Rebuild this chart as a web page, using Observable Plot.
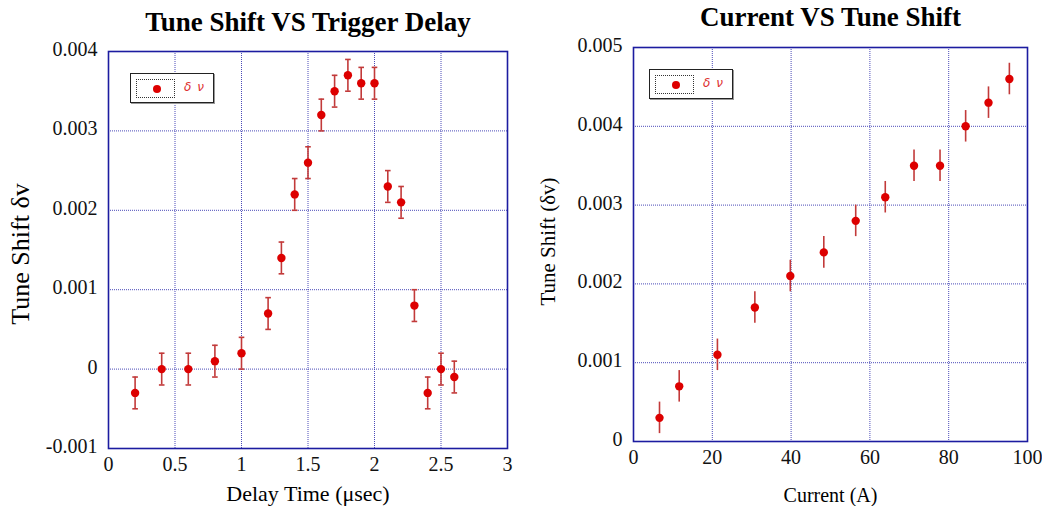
<!DOCTYPE html>
<html>
<head>
<meta charset="utf-8">
<script src="https://cdn.jsdelivr.net/npm/d3@7"></script>
<script src="https://cdn.jsdelivr.net/npm/@observablehq/plot@0.6"></script>
<style>
  html, body { margin: 0; padding: 0; background: #fff; }
  #wrap { position: relative; width: 1042px; height: 506px; overflow: hidden; }
  .panel { position: absolute; top: 0; }
  .panel svg, .panel svg text, .panel svg g { font-family: "Liberation Serif", "Times New Roman", serif !important; }
  .legend { position: absolute; border: 1.5px solid #222; background: #fff; box-sizing: border-box;
            box-shadow: 1px 1px 0 #999; }
  .legend .sw { position: absolute; left: 5px; top: 5px; width: 39px; height: 19px; border: 1px dotted #333; box-sizing: border-box; }
  .legend .sw i { position: absolute; left: 16px; top: 5px; width: 8px; height: 8px; border-radius: 50%; background: #dd0000; }
  .legend .lb { position: absolute; left: 53px; top: 6px; font: italic 12px "DejaVu Sans", sans-serif; color: #dd3030; letter-spacing: 1px; }
</style>
</head>
<body>
<div id="wrap"></div>
<script>
// ---- Left chart data: Tune Shift vs Trigger Delay ----
const delayTime = [0.2, 0.4, 0.6, 0.8, 1.0, 1.2, 1.3, 1.4, 1.5, 1.6, 1.7, 1.8, 1.9, 2.0, 2.1, 2.2, 2.3, 2.4, 2.5, 2.6];
const delayShift = [-0.0003, 0, 0, 0.0001, 0.0002, 0.0007, 0.0014, 0.0022, 0.0026, 0.0032, 0.0035, 0.0037, 0.0036, 0.0036, 0.0023, 0.0021, 0.0008, -0.0003, 0, -0.0001];
const delayErr = [0.0002, 0.0002, 0.0002, 0.0002, 0.0002, 0.0002, 0.0002, 0.0002, 0.0002, 0.0002, 0.0002, 0.0002, 0.0002, 0.0002, 0.0002, 0.0002, 0.0002, 0.0002, 0.0002, 0.0002];
const delayXTicks = [0, 0.5, 1, 1.5, 2, 2.5, 3];
const delayYTicks = [-0.001, 0, 0.001, 0.002, 0.003, 0.004];

// ---- Right chart data: Current vs Tune Shift ----
const current = [6.6, 11.6, 21.3, 30.8, 39.8, 48.3, 56.4, 63.9, 71.2, 77.8, 84.3, 90.1, 95.4];
const currentShift = [0.0003, 0.0007, 0.0011, 0.0017, 0.0021, 0.0024, 0.0028, 0.0031, 0.0035, 0.0035, 0.0040, 0.0043, 0.0046];
const currentErr = [0.0002, 0.0002, 0.0002, 0.0002, 0.0002, 0.0002, 0.0002, 0.0002, 0.0002, 0.0002, 0.0002, 0.0002, 0.0002];
const currentXTicks = [0, 20, 40, 60, 80, 100];
const currentYTicks = [0, 0.001, 0.002, 0.003, 0.004, 0.005];

const rows1 = delayTime.map((x, i) => ({x, y: delayShift[i], e: delayErr[i]}));
const rows2 = current.map((x, i) => ({x, y: currentShift[i], e: currentErr[i]}));

const RED = "#dd0000";
const BAR = "#c23a3a";
const FRAME = "#1c1ca0";
const GRID = "#4a4ab8";
const FONT = "'Liberation Serif', 'Times New Roman', serif";

const capSymbol = { draw(ctx, size) { ctx.moveTo(-2.8, 0); ctx.lineTo(2.8, 0); } };

const fmt = d => d === 0 ? "0" : String(+d.toFixed(3));

function chart(o) {
  const marks = [
    Plot.gridX(o.xTicks, {stroke: GRID, strokeOpacity: 1, strokeWidth: 1, strokeDasharray: "1,1"}),
    Plot.gridY(o.yTicks, {stroke: GRID, strokeOpacity: 1, strokeWidth: 1, strokeDasharray: "1,1"}),
    Plot.axisX(o.xTicks, {tickSize: 0, tickPadding: 8, fontSize: 20, fontFamily: FONT, fill: "#111", tickFormat: fmt, label: null}),
    Plot.axisY(o.yTicks, {tickSize: 0, tickPadding: 11, dy: -2, fontSize: 20, fontFamily: FONT, fill: "#111", tickFormat: fmt, label: null}),
    Plot.frame({stroke: FRAME, strokeWidth: 1.6}),
    Plot.ruleX(o.data, {x: "x", y1: d => d.y - d.e, y2: d => d.y + d.e, stroke: BAR, strokeWidth: 1.6}),
  ];
  if (o.caps) {
    marks.push(Plot.dot(o.data, {x: "x", y: d => d.y - d.e, symbol: capSymbol, stroke: BAR, strokeWidth: 1.6, fill: "none"}));
    marks.push(Plot.dot(o.data, {x: "x", y: d => d.y + d.e, symbol: capSymbol, stroke: BAR, strokeWidth: 1.6, fill: "none"}));
  }
  marks.push(Plot.dot(o.data, {x: "x", y: "y", r: 4.2, fill: RED, stroke: null}));
  marks.push(Plot.text([o.title], {frameAnchor: "top", dy: o.titleDy, fontSize: o.titleSize, fontWeight: "bold", fontFamily: FONT, fill: "#000", lineAnchor: "middle"}));
  marks.push(Plot.text([o.xLabel], {frameAnchor: "bottom", dy: o.xLabelDy, fontSize: o.xLabelSize, fontFamily: FONT, fill: "#000", lineAnchor: "middle"}));
  marks.push(Plot.text([o.yLabel], {frameAnchor: "left", textAnchor: "middle", dx: o.yLabelDx, dy: o.yLabelDy, rotate: -90, fontSize: o.yLabelSize, fontFamily: FONT, fill: "#000", lineAnchor: "middle"}));
  return Plot.plot({
    width: 521,
    height: 506,
    marginLeft: o.ml, marginRight: o.mr, marginTop: o.mt, marginBottom: o.mb,
    style: {fontFamily: FONT, color: "#111", background: "#fff", overflow: "visible"},
    x: {domain: o.xDomain},
    y: {domain: o.yDomain},
    marks
  });
}

const left = chart({
  data: rows1, caps: true,
  xDomain: [0, 3], yDomain: [-0.001, 0.004],
  xTicks: delayXTicks, yTicks: delayYTicks,
  ml: 108, mr: 14, mt: 51, mb: 58,
  title: "Tune Shift VS Trigger Delay", titleDy: -29, titleSize: 27,
  xLabel: "Delay Time (μsec)", xLabelDy: 45, xLabelSize: 22,
  yLabel: "Tune Shift δv", yLabelDx: -88, yLabelDy: 4, yLabelSize: 26
});
const right = chart({
  data: rows2, caps: false,
  xDomain: [0, 100], yDomain: [0, 0.005],
  xTicks: currentXTicks, yTicks: currentYTicks,
  ml: 112, mr: 15, mt: 47, mb: 65,
  title: "Current VS Tune Shift", titleDy: -30, titleSize: 27,
  xLabel: "Current (A)", xLabelDy: 54, xLabelSize: 20,
  yLabel: "Tune Shift (δv)", yLabelDx: -85, yLabelDy: -3, yLabelSize: 21
});

const wrap = document.getElementById("wrap");
const p1 = document.createElement("div"); p1.className = "panel"; p1.style.left = "0px"; p1.appendChild(left);
const p2 = document.createElement("div"); p2.className = "panel"; p2.style.left = "521px"; p2.appendChild(right);
wrap.appendChild(p1); wrap.appendChild(p2);

function legend(x, y) {
  const l = document.createElement("div");
  l.className = "legend";
  Object.assign(l.style, {left: x + "px", top: y + "px", width: "84px", height: "30px"});
  l.innerHTML = '<div class="sw"><i></i></div><div class="lb">δ&nbsp;ν</div>';
  wrap.appendChild(l);
}
legend(130, 73);
legend(649, 69);
</script>
</body>
</html>
